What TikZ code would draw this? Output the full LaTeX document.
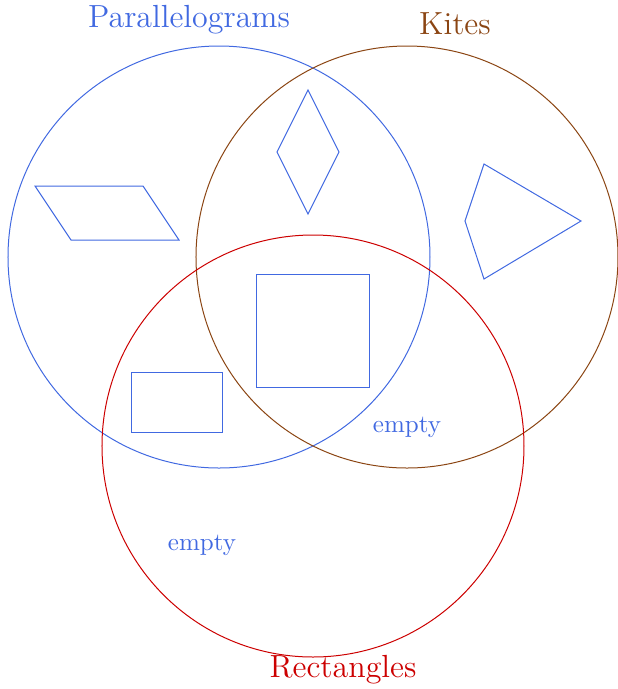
\documentclass[tikz,border=0pt]{standalone}
\definecolor{pblue}{RGB}{65,105,225}
\definecolor{kbrown}{RGB}{139,69,19}
\definecolor{rred}{RGB}{204,0,0}
\tikzset{
  setcirc/.style={line width=0.4pt},
  shapeline/.style={draw=pblue,line width=0.4pt,line join=miter},
  setlabel/.style={font=\fontsize{12.8}{15}\selectfont,inner sep=0pt},
  emptylabel/.style={font=\normalsize,text=pblue,inner sep=0pt}
}
\begin{document}
\begin{tikzpicture}[x=0.4pt,y=-0.4pt]
\useasboundingbox (0,0) rectangle (618,689);
% circles
\draw[setcirc,draw=pblue] (219,257) circle[radius=84.4pt];
\draw[setcirc,draw=kbrown] (407,257) circle[radius=84.4pt];
\draw[setcirc,draw=rred] (313,446) circle[radius=84.4pt];
% labels
\node[setlabel,text=pblue] (lp) at (189,20) {Parallelograms};
\node[setlabel,text=kbrown] (lk) at (455,24) {Kites};
\node[setlabel,text=rred] (lr) at (343,670) {Rectangles};
\node[emptylabel] (e1) at (407,427) {empty};
\node[emptylabel] (e2) at (202,545) {empty};
% shapes
\draw[shapeline] (35,186) -- (143,186) -- (179,240) -- (71,240) -- cycle;
\draw[shapeline] (308,90) -- (339,152) -- (308,214) -- (277,152) -- cycle;
\draw[shapeline] (484,164) -- (581,221) -- (484,279) -- (465,221) -- cycle;
\draw[shapeline] (257,274) rectangle (370,387);
\draw[shapeline] (132,372) rectangle (223,432);
\end{tikzpicture}
\end{document}
